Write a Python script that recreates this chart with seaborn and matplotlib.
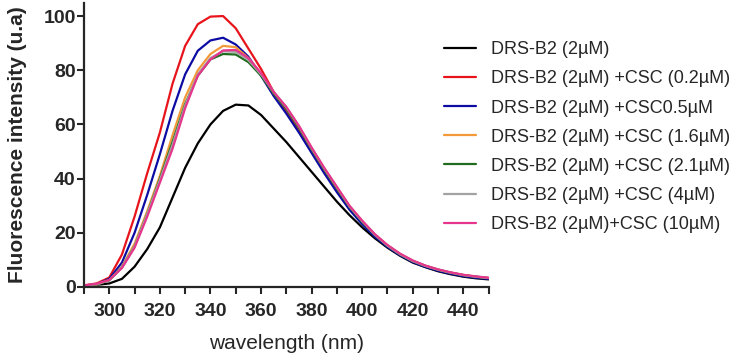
import numpy as np
import pandas as pd
import matplotlib
matplotlib.use("Agg")
import matplotlib.pyplot as plt
from matplotlib.ticker import MultipleLocator
import seaborn as sns

# emission wavelength (nm), 5 nm steps
wavelength = list(range(290, 451, 5))

drs_b2 = [0.5, 0.8, 1.3, 3.0, 7.5, 14, 22, 33, 44, 53, 60, 65, 67.3, 67, 63.5, 58.5, 53.5,
          48, 42.5, 37, 31.5, 26.5, 22, 18, 14.5, 11.5, 9, 7.3, 5.8, 4.7, 3.8, 3.2, 2.8]
csc_0_2 = [0.6, 1.3, 3.5, 12, 26, 42, 57, 75, 89, 97, 99.8, 100, 95.5, 88, 80.5, 72, 65,
           58, 50.5, 43, 36, 29.4, 24, 19.2, 15.2, 12, 9.5, 7.7, 6.3, 5.2, 4.3, 3.7, 3.2]
csc_0_5 = [0.5, 1.0, 3.0, 9, 20, 34, 49, 65, 78.5, 87.2, 91, 92, 89.5, 85, 78, 70.5, 64,
           57, 49.5, 42, 35, 28.5, 23.2, 18.6, 14.8, 11.7, 9.2, 7.4, 6.0, 4.9, 4.0, 3.4, 3.0]
csc_1_6 = [0.5, 0.9, 2.5, 7.5, 16, 28, 41, 56, 70, 80, 86, 89, 88.5, 84.5, 78.5, 71.5, 66,
           59, 51, 43.5, 36.5, 29.7, 24.2, 19.3, 15.3, 12.1, 9.6, 7.8, 6.4, 5.3, 4.4, 3.8, 3.3]
csc_2_1 = [0.5, 1.0, 2.5, 7.2, 15, 27, 40, 53.5, 67.5, 78, 84, 86, 85.8, 83, 78, 71.5, 65.8,
           58.8, 51, 43.5, 36.4, 29.6, 24.1, 19.3, 15.3, 12.1, 9.6, 7.8, 6.4, 5.3, 4.4, 3.8, 3.3]
csc_4 = [0.5, 1.0, 2.5, 7.2, 15, 27, 39.5, 52.5, 67, 78.5, 84.5, 87, 86.8, 83.8, 78.5, 72, 66.3,
         59.3, 51.3, 43.8, 36.8, 29.8, 24.3, 19.3, 15.3, 12.1, 9.6, 7.8, 6.4, 5.3, 4.4, 3.8, 3.3]
csc_10 = [0.6, 1.2, 2.6, 7, 14.5, 26, 38.5, 51, 66, 78, 84, 87.3, 87.5, 84.5, 79, 72, 66.5,
          59.5, 51.5, 44, 37, 30, 24.5, 19.5, 15.5, 12.3, 9.8, 7.9, 6.5, 5.4, 4.5, 3.9, 3.4]

labels = ["DRS-B2 (2µM)",
          "DRS-B2 (2µM) +CSC (0.2µM)",
          "DRS-B2 (2µM) +CSC0.5µM",
          "DRS-B2 (2µM) +CSC (1.6µM)",
          "DRS-B2 (2µM) +CSC (2.1µM)",
          "DRS-B2 (2µM) +CSC (4µM)",
          "DRS-B2 (2µM)+CSC (10µM)"]
series = [drs_b2, csc_0_2, csc_0_5, csc_1_6, csc_2_1, csc_4, csc_10]
colors = ["#000000", "#e8141b", "#0c0ca3", "#f29a3a", "#1f6b1f", "#a3a3a3", "#e6358c"]

df = pd.concat([pd.DataFrame({"wavelength": wavelength, "intensity": s, "sample": lab})
                for lab, s in zip(labels, series)], ignore_index=True)

sns.set_style("ticks")
plt.rcParams["font.family"] = ["Liberation Sans", "DejaVu Sans"]

fig = plt.figure(figsize=(7.33, 3.59), dpi=100)
ax = fig.add_axes([0.1146, 0.2006, 0.552, 0.7924])

sns.lineplot(data=df, x="wavelength", y="intensity", hue="sample",
             palette=dict(zip(labels, colors)), hue_order=labels,
             linewidth=1.6, ax=ax)

ax.set_xlim(290, 450)
ax.set_ylim(0, 105)
ax.xaxis.set_major_locator(MultipleLocator(20))
ax.xaxis.set_minor_locator(MultipleLocator(10))
ax.set_yticks([0, 20, 40, 60, 80, 100])
ax.set_xticks(range(300, 441, 20))
sns.despine(ax=ax)
for sp in ["left", "bottom"]:
    ax.spines[sp].set_linewidth(1.6)
ax.tick_params(which="both", width=1.5, length=5, labelsize=14)
ax.tick_params(axis="x", pad=6.5)
ax.tick_params(axis="y", pad=1)
for t in ax.get_xticklabels() + ax.get_yticklabels():
    t.set_fontweight("bold")

ax.set_xlabel("wavelength (nm)", fontsize=15, labelpad=10)
ax.set_ylabel("Fluorescence intensity (u.a)", fontsize=15, fontweight="bold", labelpad=12)

handles, labs = ax.get_legend_handles_labels()
ax.legend(handles, labs, loc="upper left", bbox_to_anchor=(0.593, 0.91),
          bbox_transform=fig.transFigure, frameon=False, fontsize=13,
          borderpad=0, handlelength=1.78, handletextpad=0.83, labelspacing=0.67)

fig.savefig("out.png", dpi=100)
